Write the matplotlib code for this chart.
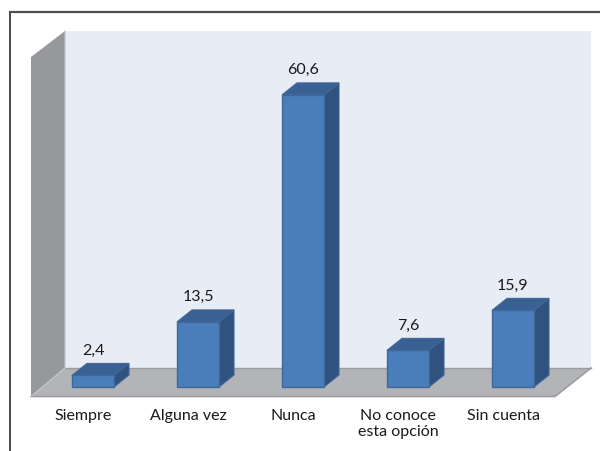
import matplotlib
matplotlib.use("Agg")
import matplotlib.pyplot as plt
from matplotlib.patches import Polygon

categories = ["Siempre", "Alguna vez", "Nunca", "No conoce\nesta opción", "Sin cuenta"]
values = [2.4, 13.5, 60.6, 7.6, 15.9]
value_labels = ["2,4", "13,5", "60,6", "7,6", "15,9"]

plt.rcParams['font.family'] = ['Lato', 'DejaVu Sans']

# pixel layout of the picture
W, H = 600, 451
X0, STEP = 93, 105      # centre of first bar, spacing
Y0, PX_UNIT = 387, 4.82  # baseline, pixels per value unit


def px(x, y):
    # pixels to data coords
    return (x - X0) / STEP, (Y0 - y) / PX_UNIT


fig = plt.figure(figsize=(W / 100, H / 100), dpi=100)
ax = fig.add_axes([0, 0, 1, 1])
ax.set_xlim(px(0, 0)[0], px(W, 0)[0])
ax.set_ylim(px(0, H)[1], px(0, 0)[1])
ax.axis("off")


def poly(points, face, edge=None, lw=0.0, z=1):
    ax.add_patch(Polygon([px(*p) for p in points], closed=True, facecolor=face,
                         edgecolor=edge if edge else face, linewidth=lw, zorder=z))


# back wall, side wall, floor
poly([(65, 31), (591, 31), (591, 368), (65, 368)], "#E8ECF5")
poly([(31, 57), (65, 31), (65, 368), (31, 397)], "#97989B", z=2)
poly([(65, 368), (591, 368), (555, 396), (31, 396)], "#B2B4B8", z=2)
ax.plot(*zip(px(65, 368), px(591, 368)), color="#9A9CA0", lw=1, zorder=3)
ax.plot(*zip(px(31, 396.5), px(555, 396.5), px(591, 368)), color="#9A9CA0", lw=1.2, zorder=3)
ax.plot(*zip(px(65, 31), px(65, 368), px(31, 396.5)), color="#C4C6CA", lw=0.8, zorder=3)

# bars
half = 0.2          # half bar width in category units
dx, dy = 15 / STEP, 12 / PX_UNIT
edge = "#3F6797"
for i, v in enumerate(values):
    l, r = i - half, i + half
    ax.add_patch(Polygon([(r, 0), (r + dx, dy), (r + dx, v + dy), (r, v)], closed=True,
                         facecolor="#30527E", edgecolor=edge, linewidth=0.8, zorder=4))
    ax.add_patch(Polygon([(l, v), (l + dx, v + dy), (r + dx, v + dy), (r, v)], closed=True,
                         facecolor="#3A6193", edgecolor=edge, linewidth=0.8, zorder=4))
    ax.bar(i, v, width=2 * half, color="#4A7EBB", edgecolor=edge, linewidth=1, zorder=5)
    ax.text(i, v + dy + 1.2, value_labels[i], ha="center", va="bottom",
            fontsize=11.5, color="#1a1a1a", zorder=6)
    ax.text(i - 0.095, px(0, 409)[1], categories[i], ha="center", va="top",
            fontsize=11.5, color="#1a1a1a", linespacing=1.2, zorder=6)

# frame of the pasted picture
ax.plot(*zip(px(10, 451), px(10, 12)), color="#2a2a2a", lw=1.2, zorder=7)
ax.plot(*zip(px(10, 12), px(600, 12)), color="#505050", lw=1.6, zorder=7)

fig.savefig("out.png", dpi=100)
